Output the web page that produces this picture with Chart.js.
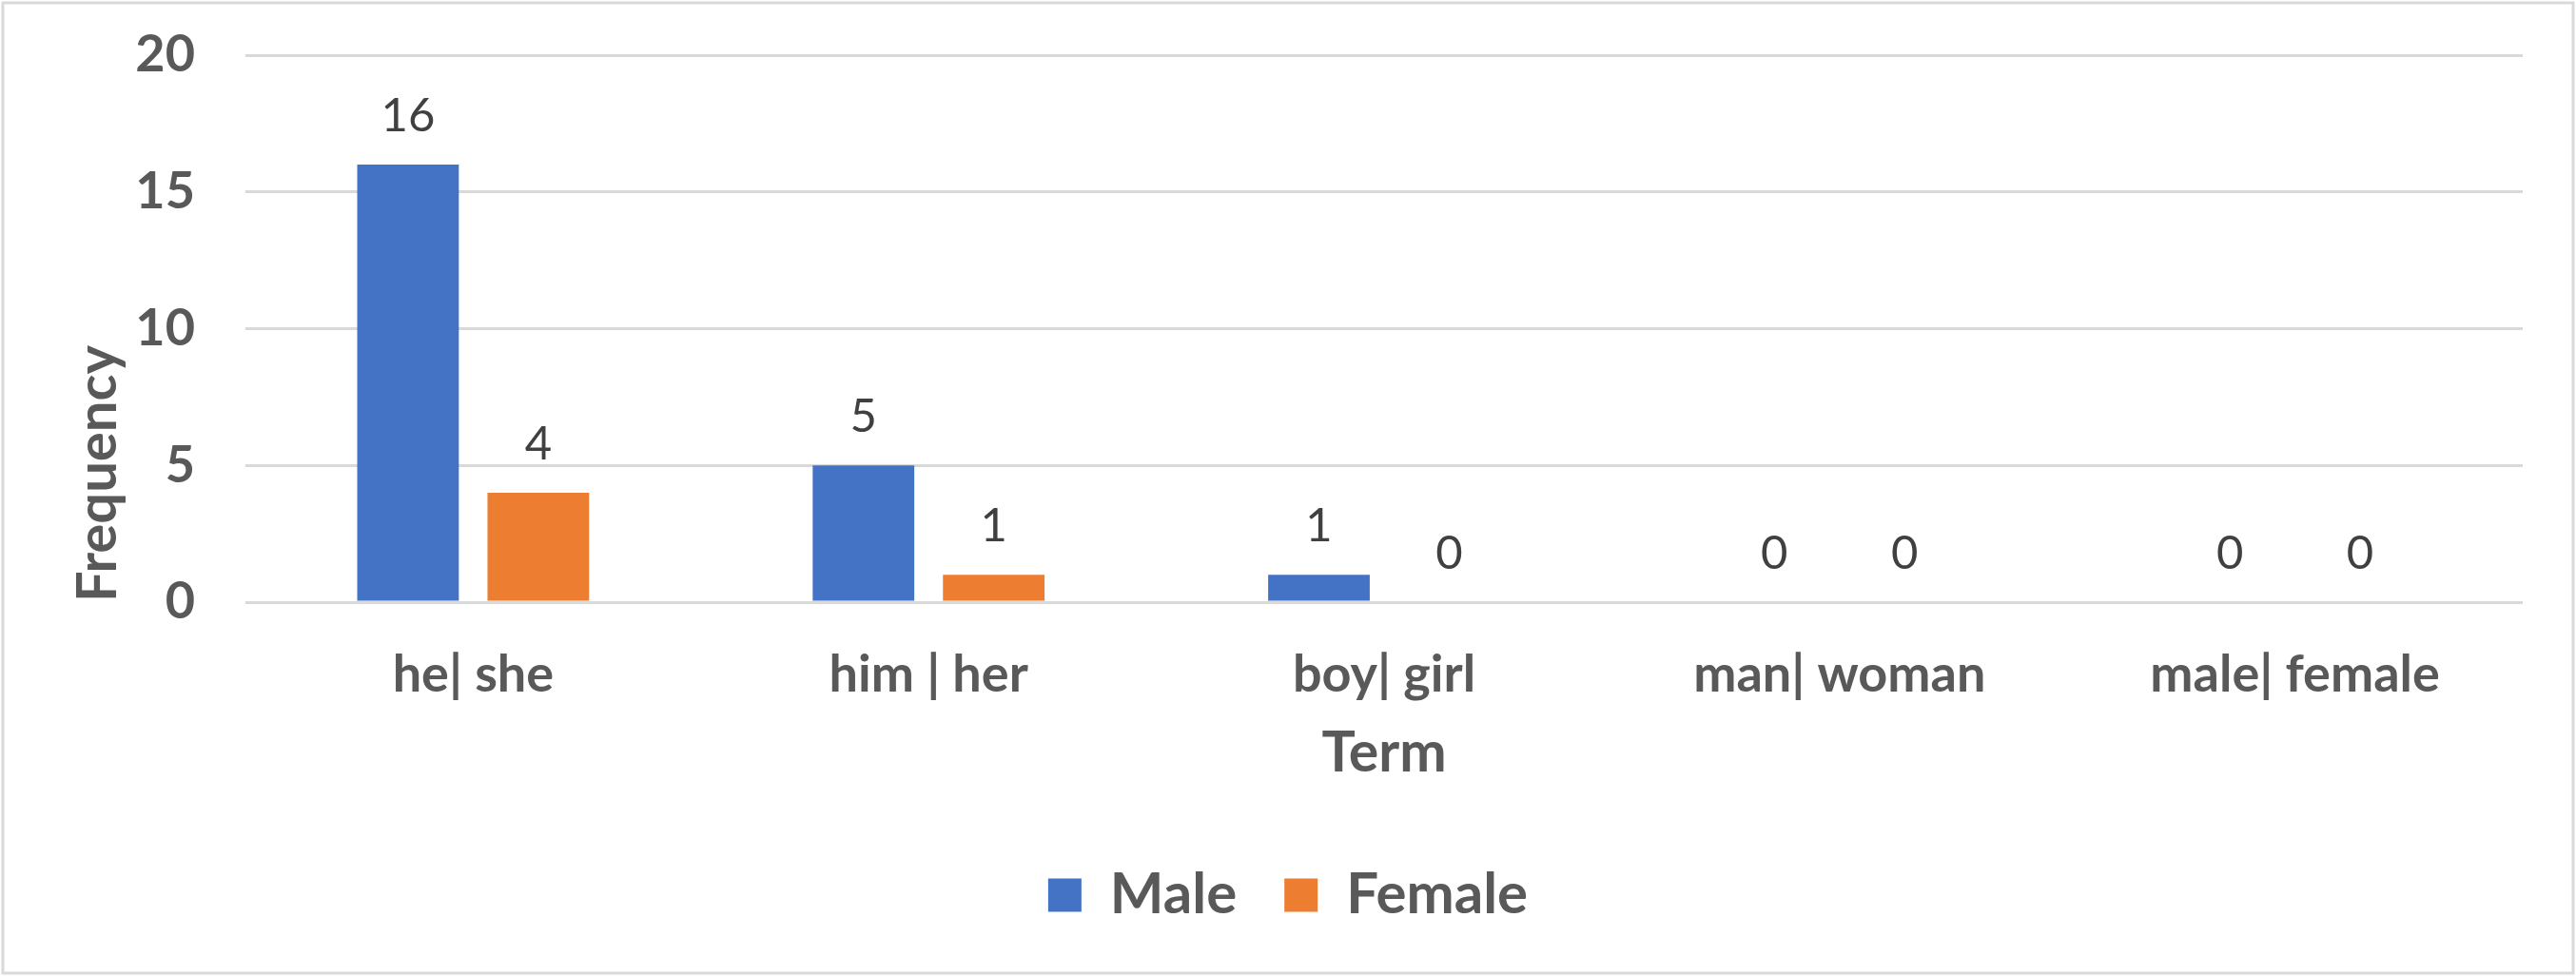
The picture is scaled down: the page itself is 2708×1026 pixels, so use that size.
<!DOCTYPE html>
<html>
<head>
<meta charset="utf-8">
<script src="https://cdn.jsdelivr.net/npm/chart.js@4.4.1/dist/chart.umd.min.js"></script>
<style>
  html, body { margin: 0; padding: 0; background: #fff; }
  #wrap { width: 2708px; height: 1026px; }
</style>
</head>
<body>
<div id="wrap"><canvas id="barChart" width="2708" height="1026"></canvas></div>
<script>
const terms = ['he| she', 'him | her', 'boy| girl', 'man| woman', 'male| female'];
const maleCounts = [16, 5, 1, 0, 0];
const femaleCounts = [4, 1, 0, 0, 0];
const yTicks = [0, 5, 10, 15, 20];

const FONT = 'Lato, Calibri, "Open Sans", sans-serif';
const axisGrey = '#595959';

// frame round the whole picture
const frame = {
  id: 'frame',
  beforeDraw(chart) {
    const { ctx, width, height } = chart;
    ctx.save();
    ctx.fillStyle = '#fff';
    ctx.fillRect(0, 0, width, height);
    ctx.strokeStyle = '#d9d9d9';
    ctx.lineWidth = 3;
    ctx.strokeRect(3, 3, width - 6, height - 6);
    ctx.restore();
  },
};

// value above each bar
const valueLabels = {
  id: 'valueLabels',
  afterDatasetsDraw(chart) {
    const { ctx } = chart;
    ctx.save();
    ctx.font = '49px ' + FONT;
    ctx.fillStyle = '#404040';
    ctx.textAlign = 'center';
    ctx.textBaseline = 'alphabetic';
    chart.data.datasets.forEach((ds, i) => {
      chart.getDatasetMeta(i).data.forEach((bar, j) => {
        ctx.fillText(String(ds.data[j]), bar.x, bar.y - 35);
      });
    });
    ctx.restore();
  },
};

new Chart(document.getElementById('barChart'), {
  type: 'bar',
  data: {
    labels: terms,
    datasets: [
      {
        label: 'Male',
        data: maleCounts,
        backgroundColor: '#4472C4',
        categoryPercentage: 0.572,
        barPercentage: 0.78,
      },
      {
        label: 'Female',
        data: femaleCounts,
        backgroundColor: '#ED7D31',
        categoryPercentage: 0.572,
        barPercentage: 0.78,
      },
    ],
  },
  options: {
    responsive: false,
    animation: false,
    devicePixelRatio: 1,
    layout: { padding: { top: 58, right: 56, bottom: 45, left: 56 } },
    plugins: {
      tooltip: { enabled: false },
      legend: {
        position: 'bottom',
        labels: {
          color: axisGrey,
          font: { family: FONT, size: 60, weight: 'bold' },
          boxWidth: 35,
          boxHeight: 35,
          padding: 50,
        },
      },
    },
    scales: {
      x: {
        grid: { display: false },
        border: { display: false },
        afterFit(scale) { scale.height = 228; },
        ticks: {
          color: axisGrey,
          padding: 36,
          font: { family: FONT, size: 54, weight: 'bold' },
        },
        title: {
          display: true,
          text: 'Term',
          color: axisGrey,
          font: { family: FONT, size: 59, weight: 'bold' },
          padding: { top: 0, bottom: 34 },
        },
      },
      y: {
        min: 0,
        max: 20,
        afterFit(scale) { scale.width = 202; },
        afterBuildTicks(scale) { scale.ticks = yTicks.map(v => ({ value: v })); },
        grid: { color: '#d9d9d9', lineWidth: 3, tickLength: 53, tickColor: 'transparent' },
        border: { display: false },
        ticks: {
          color: axisGrey,
          padding: 0,
          font: { family: FONT, size: 54, weight: 'bold' },
        },
        title: {
          display: true,
          text: 'Frequency',
          align: 'start',
          color: axisGrey,
          font: { family: FONT, size: 58, weight: 'bold' },
          padding: { top: 12, bottom: 0 },
        },
      },
    },
  },
  plugins: [frame, valueLabels],
});
</script>
</body>
</html>
